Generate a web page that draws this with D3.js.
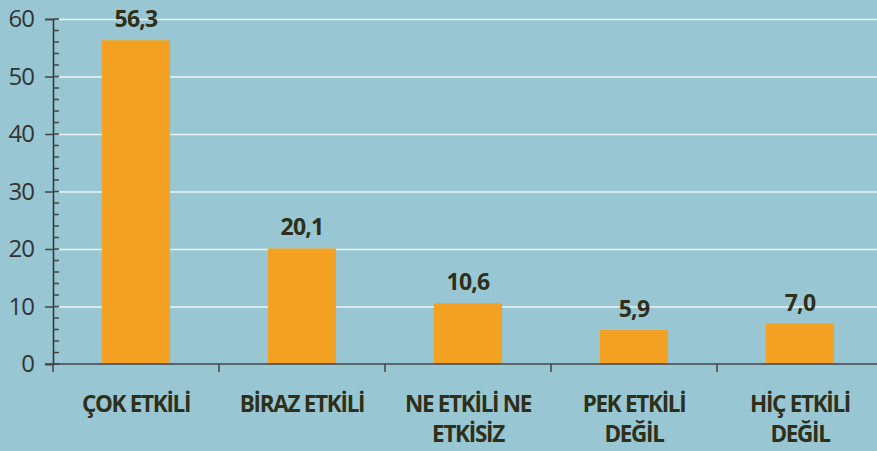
<!DOCTYPE html>
<html>
<head>
<meta charset="utf-8">
<script src="https://cdn.jsdelivr.net/npm/d3@7"></script>
<style>
  body { margin: 0; background: #98c7d3; }
  svg { display: block; }
</style>
</head>
<body>
<div id="chart"></div>
<script>
var categories = [["ÇOK ETKİLİ"], ["BİRAZ ETKİLİ"], ["NE ETKİLİ NE", "ETKİSİZ"], ["PEK ETKİLİ", "DEĞİL"], ["HİÇ ETKİLİ", "DEĞİL"]];
var values = [56.3, 20.1, 10.6, 5.9, 7.0];
var yTicks = [0, 10, 20, 30, 40, 50, 60];

var width = 877, height = 451;
var margin = {left: 53, top: 19, bottom: 87};
var zeroY = height - margin.bottom;

var svg = d3.select("#chart").append("svg")
  .attr("width", width)
  .attr("height", height);

svg.append("rect").attr("width", width).attr("height", height).attr("fill", "#98c7d3");

var x = d3.scaleBand()
  .domain(d3.range(values.length))
  .range([margin.left, margin.left + 5 * 166])
  .paddingInner(0.59)
  .paddingOuter(0.295);

var y = d3.scaleLinear()
  .domain([0, 60])
  .range([zeroY, margin.top]);

// gridlines
svg.append("g").selectAll("line")
  .data(yTicks.filter(d => d > 0))
  .enter().append("line")
  .attr("x1", margin.left + 6)
  .attr("x2", width)
  .attr("y1", d => y(d) + 0.5)
  .attr("y2", d => y(d) + 0.5)
  .attr("stroke", "#ffffff")
  .attr("stroke-opacity", 0.8)
  .attr("stroke-width", 1.5);

// bars
svg.append("g").selectAll("rect")
  .data(values)
  .enter().append("rect")
  .attr("x", (d, i) => x(i))
  .attr("y", d => y(d))
  .attr("width", x.bandwidth())
  .attr("height", d => zeroY - y(d))
  .attr("fill", "#f2a122");

// value labels
svg.append("g").selectAll("text")
  .data(values)
  .enter().append("text")
  .attr("x", (d, i) => x(i) + x.bandwidth() / 2)
  .attr("y", d => y(d) - 13)
  .attr("text-anchor", "middle")
  .attr("font-family", "Open Sans, sans-serif")
  .attr("font-weight", "bold")
  .attr("font-size", 23)
  .attr("letter-spacing", "-0.8px")
  .attr("fill", "#2f2f1a")
  .text(d => d3.format(".1f")(d).replace(".", ","));

// y axis
var yAxis = d3.axisLeft(y)
  .tickValues(yTicks)
  .tickSize(8)
  .tickPadding(11)
  .tickFormat(d3.format("d"));

var yAxisG = svg.append("g")
  .attr("transform", `translate(${margin.left},0)`)
  .call(yAxis);
yAxisG.select(".domain").attr("stroke", "#333").attr("stroke-width", 1.5);
yAxisG.selectAll(".tick line").attr("stroke", "#444").attr("stroke-width", 1.5);
yAxisG.selectAll(".tick text")
  .attr("font-family", "Open Sans, sans-serif")
  .attr("font-size", 24)
  .attr("letter-spacing", "-1px")
  .attr("fill", "#333");

// minor ticks on the right side of axis
var minor = d3.range(0, 61, 2);
svg.append("g").selectAll("line")
  .data(minor)
  .enter().append("line")
  .attr("x1", margin.left)
  .attr("x2", margin.left + 6)
  .attr("y1", d => y(d))
  .attr("y2", d => y(d))
  .attr("stroke", "#444")
  .attr("stroke-width", 1.5);

// x axis
svg.append("line")
  .attr("x1", margin.left - 8)
  .attr("x2", width)
  .attr("y1", zeroY)
  .attr("y2", zeroY)
  .attr("stroke", "#444")
  .attr("stroke-width", 1.5);

svg.append("g").selectAll("line")
  .data(d3.range(values.length))
  .enter().append("line")
  .attr("x1", d => x(d) - x.step() * x.paddingOuter())
  .attr("x2", d => x(d) - x.step() * x.paddingOuter())
  .attr("y1", zeroY)
  .attr("y2", zeroY + 8)
  .attr("stroke", "#444")
  .attr("stroke-width", 1.5);

// category labels
var catG = svg.append("g").selectAll("text")
  .data(categories)
  .enter().append("text")
  .attr("x", (d, i) => x(i) + x.bandwidth() / 2)
  .attr("y", zeroY + 48)
  .attr("text-anchor", "middle")
  .attr("font-family", "Open Sans, sans-serif")
  .attr("font-weight", "bold")
  .attr("font-size", 22.5)
  .attr("letter-spacing", "-1.3px")
  .attr("fill", "#2f2f1a");

catG.selectAll("tspan")
  .data(d => d)
  .enter().append("tspan")
  .attr("x", function() { return d3.select(this.parentNode).attr("x"); })
  .attr("dy", (d, i) => i === 0 ? 0 : 30)
  .text(d => d);
</script>
</body>
</html>
